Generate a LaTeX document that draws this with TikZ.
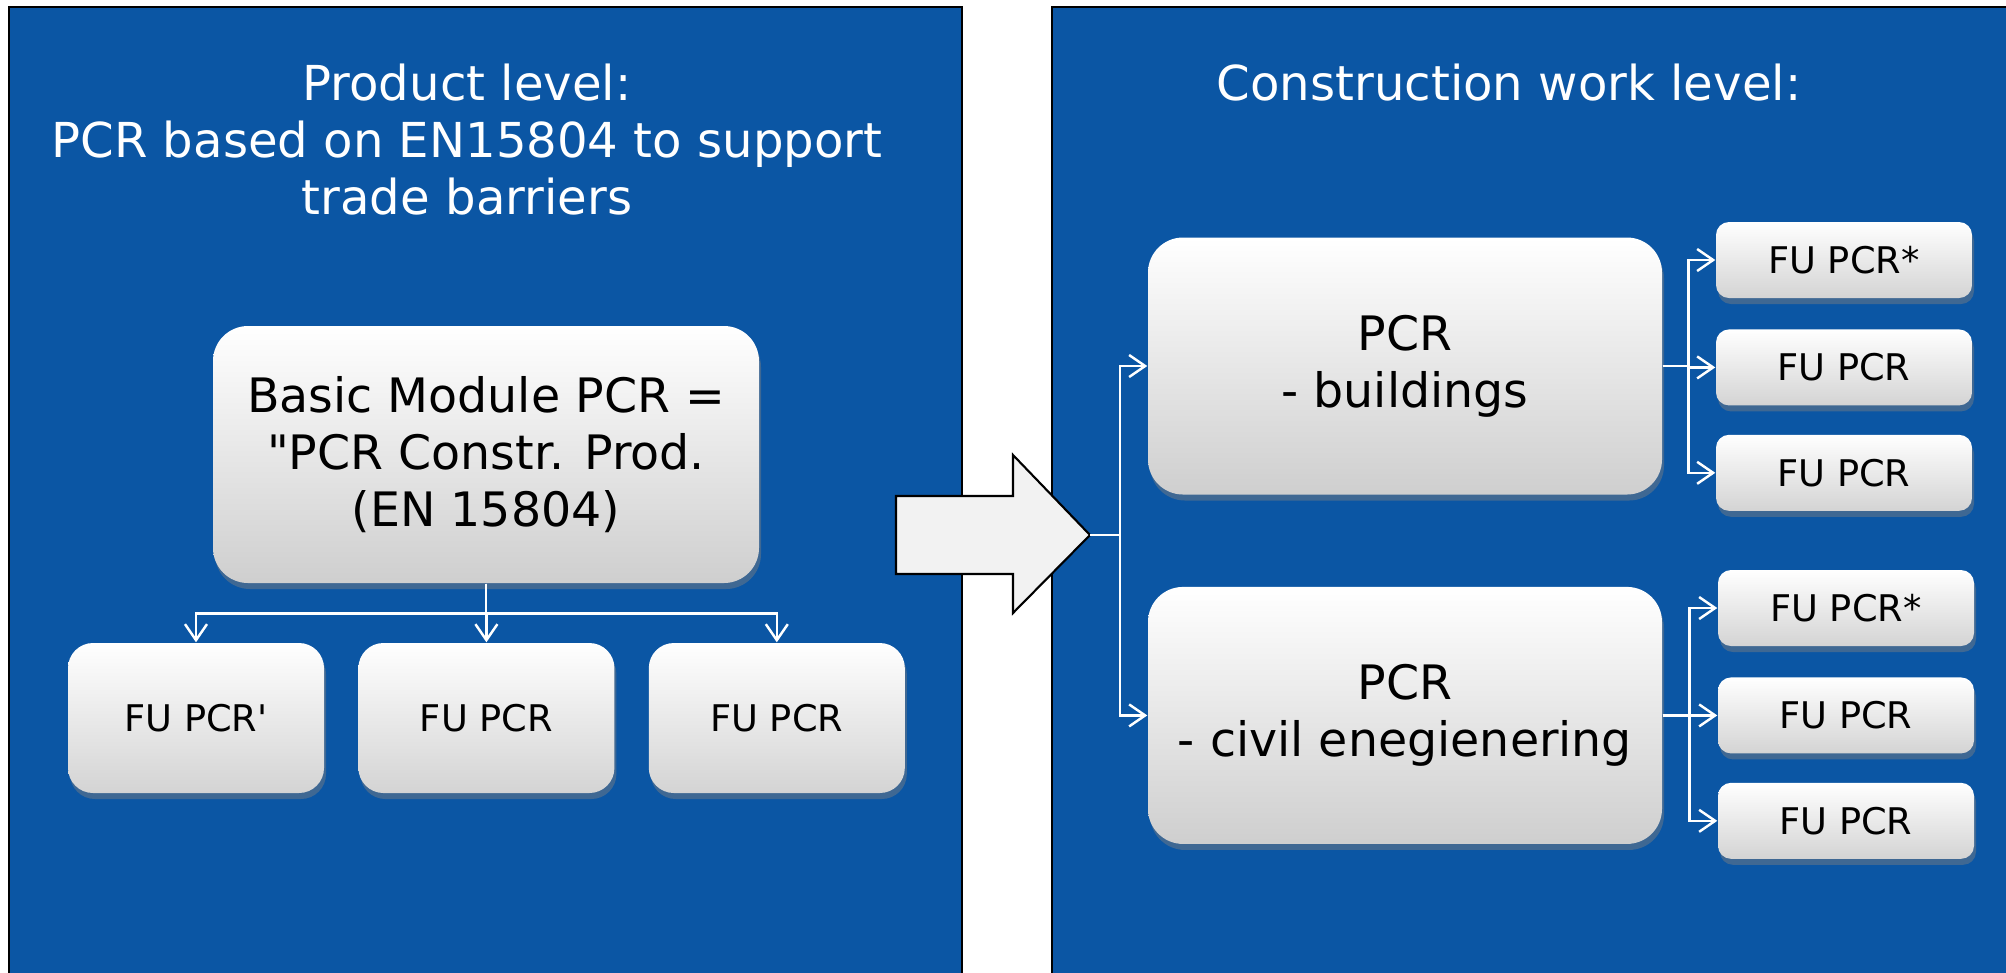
\documentclass[tikz,border=0pt]{standalone}
\usepackage{fontspec}
\setmainfont{DejaVu Sans}[Ligatures=TeXOff]
\usetikzlibrary{arrows.meta,positioning,shadows}
\definecolor{panelblue}{HTML}{0B56A4}
\definecolor{arrowgray}{HTML}{F2F2F2}
\tikzset{
    %Define standard arrow tip
    >={Straight Barb[length=1.6mm,width=2.2mm]},
    %Define style for the two level panels
    panel/.style={
           fill=panelblue,
           draw=black,
           line width=0.6pt},
    %Define style for panel titles
    titel/.style={
           text=white,
           inner sep=0pt,
           align=center,
           font=\fontsize{13.7}{16.2}\selectfont},
    %Define style for the big PCR boxes
    pcrbox/.style={
           rectangle,
           rounded corners=3.5mm,
           top color=white,
           middle color=black!4,
           bottom color=black!19,
           drop shadow={shadow xshift=0.2mm, shadow yshift=-0.6mm, opacity=0.45},
           minimum width=5.14cm,
           minimum height=2.57cm,
           align=center,
           font=\fontsize{13.5}{16.2}\selectfont},
    %Define style for the FU boxes
    fubox/.style={
           rectangle,
           rounded corners=2.5mm,
           top color=white,
           middle color=black!4,
           bottom color=black!17,
           drop shadow={shadow xshift=0.2mm, shadow yshift=-0.6mm, opacity=0.45},
           minimum width=2.56cm,
           minimum height=1.50cm,
           font=\fontsize{10.45}{12.5}\selectfont},
    fuslim/.style={
           fubox,
           rounded corners=1.3mm,
           minimum height=0.76cm},
    % Define arrow style
    pil/.style={
           ->,
           draw=white,
           line width=0.7pt}
}

\begin{document}
\begin{tikzpicture}
    \useasboundingbox (0,0) rectangle (20.06,-9.72);
    % the two panels
    \draw[panel] (0.09,-0.07) rectangle (9.62,-9.85);
    \draw[panel] (10.52,-0.07) rectangle (20.15,-9.85);
    \node[titel, anchor=north] (prodtitle) at (4.67,-0.635)
         {Product level:\\PCR based on EN15804 to support\\trade barriers};
    \node[titel, anchor=base] (worktitle) at (15.09,-1.00) {Construction work level:};

    % product level
    \node[pcrbox, minimum width=5.46cm] (basic) at (4.86,-4.545)
         {Basic Module PCR =\\"PCR Constr. Prod.\\(EN 15804)};
    \node[fubox] (fuA) at (1.96,-7.18) {FU PCR'};
    \node[fubox, right=0.33cm of fuA] (fuB) {FU PCR};
    \node[fubox, right=0.33cm of fuB] (fuC) {FU PCR};
    \foreach \n in {fuA,fuB,fuC}
        \draw[pil] (basic.south) -- ++(0,-0.30) -| (\n.north);

    % big arrow between the levels
    \draw[fill=arrowgray, line width=0.6pt] (8.96,-4.96) -- (10.13,-4.96) -- (10.13,-4.55)
         -- (10.90,-5.35) -- (10.13,-6.13) -- (10.13,-5.74) -- (8.96,-5.74) -- cycle;
    \coordinate (tip) at (10.90,-5.35);
    \coordinate (split) at (11.20,-5.35);

    % construction work level
    \node[pcrbox] (bld) at (14.05,-3.66) {PCR\\- buildings};
    \node[pcrbox, below=0.91cm of bld] (civ) {PCR\\- civil enegienering};
    \draw[white, line width=0.7pt] (tip) -- (split);
    \draw[pil] (split) |- (bld.west);
    \draw[pil] (split) |- (civ.west);

    \node[fuslim] (bfu1) at (18.44,-2.60) {FU PCR*};
    \node[fuslim, below=0.30cm of bfu1] (bfu2) {FU PCR};
    \node[fuslim, below=0.28cm of bfu2] (bfu3) {FU PCR};
    \node[fuslim] (cfu1) at (18.46,-6.08) {FU PCR*};
    \node[fuslim, below=0.30cm of cfu1] (cfu2) {FU PCR};
    \node[fuslim, below=0.28cm of cfu2] (cfu3) {FU PCR};
    \foreach \n in {bfu1,bfu2,bfu3}
        \draw[pil] (bld.east) -- ++(0.26,0) |- (\n.west);
    \foreach \n in {cfu1,cfu2,cfu3}
        \draw[pil] (civ.east) -- ++(0.27,0) |- (\n.west);
\end{tikzpicture}
\end{document}
